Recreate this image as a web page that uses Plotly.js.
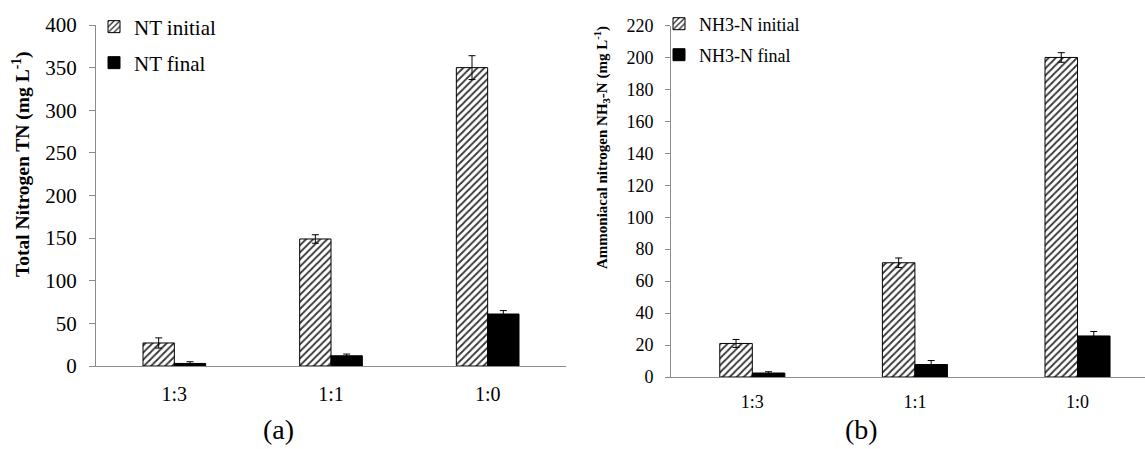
<!DOCTYPE html>
<html>
<head>
<meta charset="utf-8">
<script src="https://cdn.plot.ly/plotly-3.0.1.min.js"></script>
<style>html,body{margin:0;padding:0;background:#fff;}#chart{width:1145px;height:449px;}</style>
</head>
<body>
<div id="chart"></div>
<script>
// ---- data ----
var categories = ['1:3', '1:1', '1:0'];
var ntInitial = [27, 149, 350];
var ntInitialErr = [6, 5, 14];
var ntFinal = [3, 12, 61];
var ntFinalErr = [2, 2, 4];
var nh3Initial = [21, 71.5, 200];
var nh3InitialErr = [2.5, 3, 3];
var nh3Final = [2.5, 7.8, 25.7];
var nh3FinalErr = [0.8, 2.5, 2.8];
var seriesNames = ['NT initial', 'NT final', 'NH3-N initial', 'NH3-N final'];

var W = 1145, H = 449;
function px(x) { return x / W; }
function py(y) { return (H - y) / H; }

var FONT = 'Liberation Serif';
var hatch = {shape: '/', fgcolor: '#333333', bgcolor: '#ffffff', size: 5, solidity: 0.35};
var errStyle = function (arr) {
  return {type: 'data', array: arr, visible: true, color: '#000', thickness: 1, width: 3.5};
};

var traces = [
  {type: 'bar', name: seriesNames[0], x: categories, y: ntInitial, xaxis: 'x', yaxis: 'y', legend: 'legend',
   marker: {color: '#fff', pattern: hatch, line: {color: '#000', width: 1}}, error_y: errStyle(ntInitialErr)},
  {type: 'bar', name: seriesNames[1], x: categories, y: ntFinal, xaxis: 'x', yaxis: 'y', legend: 'legend2',
   marker: {color: '#000', line: {color: '#000', width: 1}}, error_y: errStyle(ntFinalErr)},
  {type: 'bar', name: seriesNames[2], x: categories, y: nh3Initial, xaxis: 'x2', yaxis: 'y2', legend: 'legend3',
   marker: {color: '#fff', pattern: hatch, line: {color: '#000', width: 1}}, error_y: errStyle(nh3InitialErr)},
  {type: 'bar', name: seriesNames[3], x: categories, y: nh3Final, xaxis: 'x2', yaxis: 'y2', legend: 'legend4',
   marker: {color: '#000', line: {color: '#000', width: 1}}, error_y: errStyle(nh3FinalErr)}
];

function legendAt(x, y, size) {
  return {x: px(x), y: py(y), xanchor: 'left', yanchor: 'middle', bgcolor: 'rgba(0,0,0,0)',
          borderwidth: 0, font: {family: FONT, size: size, color: '#000'}, itemclick: false};
}

var layout = {
  width: W, height: H, autosize: false,
  margin: {l: 0, r: 0, t: 0, b: 0},
  paper_bgcolor: '#fff', plot_bgcolor: '#fff',
  barmode: 'group', bargap: 0.6, bargroupgap: 0,
  font: {family: FONT, color: '#000'},
  showlegend: true,
  legend: legendAt(94, 27, 21),
  legend2: legendAt(94, 63, 21),
  legend3: legendAt(659, 24, 18),
  legend4: legendAt(659, 55, 18),
  xaxis: {domain: [px(96), px(566)], anchor: 'y', type: 'category', range: [-0.5, 2.5],
          showline: true, linecolor: '#8c8c8c', linewidth: 1, ticks: '', showgrid: false, zeroline: false,
          tickfont: {family: FONT, size: 20, color: '#000'}, ticklabelstandoff: 10, fixedrange: true},
  yaxis: {domain: [py(366), py(25)], anchor: 'x', range: [0, 400], dtick: 50,
          showline: true, linecolor: '#8c8c8c', linewidth: 1, ticks: 'outside', ticklen: 6, tickcolor: '#8c8c8c',
          showgrid: false, zeroline: false, tickfont: {family: FONT, size: 21, color: '#000'},
          ticklabelstandoff: 8, fixedrange: true},
  xaxis2: {domain: [px(671), 1], anchor: 'y2', type: 'category', range: [-0.5, 2.415],
          showline: true, linecolor: '#8c8c8c', linewidth: 1, ticks: '', showgrid: false, zeroline: false,
          tickfont: {family: FONT, size: 18, color: '#000'}, ticklabelstandoff: 8, fixedrange: true},
  yaxis2: {domain: [py(377), py(25.5)], anchor: 'x2', range: [0, 220], dtick: 20,
          showline: true, linecolor: '#8c8c8c', linewidth: 1, ticks: 'outside', ticklen: 5, tickcolor: '#8c8c8c',
          showgrid: false, zeroline: false, tickfont: {family: FONT, size: 18, color: '#000'},
          ticklabelstandoff: 8, fixedrange: true},
  annotations: [
    {text: '<b>Total Nitrogen TN (mg L<sup>-1</sup>)</b>', xref: 'paper', yref: 'paper', x: px(22), y: py(164),
     textangle: -90, showarrow: false, xanchor: 'center', yanchor: 'middle', font: {family: FONT, size: 19.5, color: '#000'}},
    {text: '<b>Ammoniacal nitrogen NH<sub>3</sub>-N (mg L<sup>-1</sup>)</b>', xref: 'paper', yref: 'paper', x: px(602), y: py(148),
     textangle: -90, showarrow: false, xanchor: 'center', yanchor: 'middle', font: {family: FONT, size: 15, color: '#000'}},
    {text: '(a)', xref: 'paper', yref: 'paper', x: px(278), y: py(429), showarrow: false,
     xanchor: 'center', yanchor: 'middle', font: {family: FONT, size: 28, color: '#000'}},
    {text: '(b)', xref: 'paper', yref: 'paper', x: px(861), y: py(429), showarrow: false,
     xanchor: 'center', yanchor: 'middle', font: {family: FONT, size: 28, color: '#000'}}
  ]
};

Plotly.newPlot('chart', traces, layout, {displayModeBar: false, staticPlot: true});
</script>
</body>
</html>
